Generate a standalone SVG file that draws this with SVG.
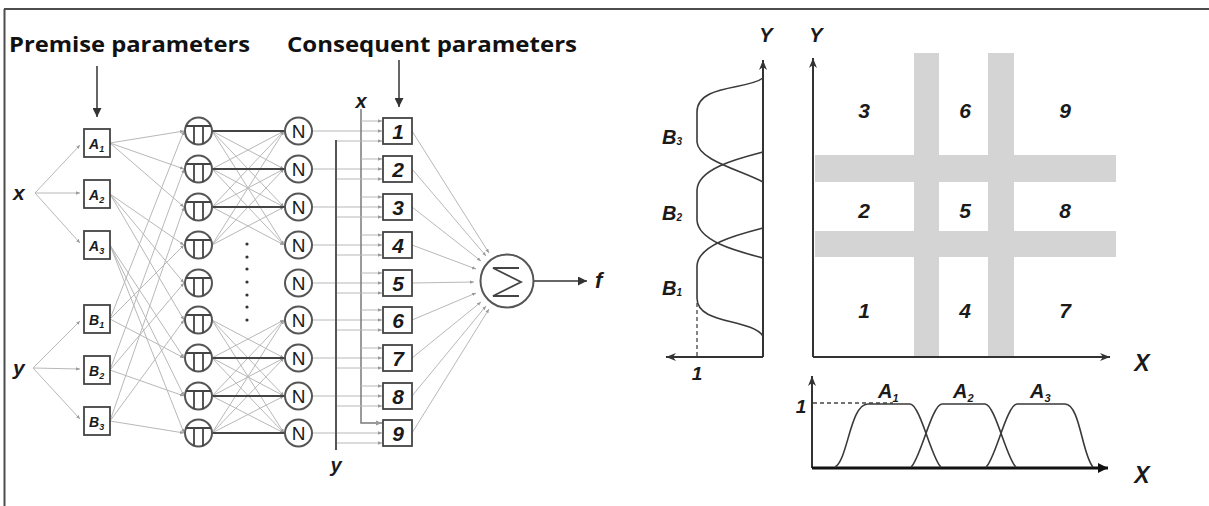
<svg xmlns="http://www.w3.org/2000/svg" width="1209" height="506" viewBox="0 0 1209 506">
<defs>
<marker id="ta" viewBox="0 0 6 6" refX="6" refY="3" markerWidth="4" markerHeight="4" orient="auto"><path d="M0,0.5 L6,3 L0,5.5z" fill="#9a9a9a"/></marker>
<marker id="da" viewBox="0 0 10 10" refX="10" refY="5" markerWidth="6" markerHeight="6" orient="auto"><path d="M0,0 L10,5 L0,10z" fill="#333"/></marker>
<marker id="aa" viewBox="0 0 10 10" refX="10" refY="5" markerWidth="5" markerHeight="5" orient="auto"><path d="M0,1 L10,5 L0,9 L3,5z" fill="#333"/></marker>
<marker id="ba" viewBox="0 0 10 10" refX="10" refY="5" markerWidth="3.5" markerHeight="3.5" orient="auto"><path d="M0,0 L10,5 L0,10z" fill="#111"/></marker>
</defs>
<style>
.t{font-family:"Liberation Sans",Arial,sans-serif;fill:#1a1a1a}
.bi{font-weight:bold;font-style:italic}
.it{font-style:italic}
.head{font-family:"Open Sans","Liberation Sans",sans-serif;font-weight:bold;font-size:21px;fill:#111}
.thin{stroke:#b8b8b8;stroke-width:1;fill:none}
.thinA{stroke:#b8b8b8;stroke-width:1;fill:none;marker-end:url(#ta)}
.thick{stroke:#444;stroke-width:2;fill:none}
.node{fill:#fff;stroke:#555;stroke-width:2}
.box{fill:#fff;stroke:#444;stroke-width:1.8}
.sym{stroke:#444;stroke-width:1.8;fill:none}
.axis{stroke:#333;stroke-width:2;fill:none}
.mf{stroke:#3a3a3a;stroke-width:1.6;fill:none}
.band{fill:#d4d4d4}
.dash{stroke:#444;stroke-width:1.3;stroke-dasharray:4 3;fill:none}
</style>
<rect width="1209" height="506" fill="#fff"/>
<g id="frame"><path d="M4,9 H1209 M4.5,9 V506" stroke="#4d4d4d" stroke-width="2" fill="none"/></g>

<g id="headings">
<text class="head" x="9" y="52" textLength="241" lengthAdjust="spacingAndGlyphs">Premise parameters</text>
<text class="head" x="287" y="52" textLength="290" lengthAdjust="spacingAndGlyphs">Consequent parameters</text>
</g>

<g id="connectors">
<path d="M97,66 V117" stroke="#333" stroke-width="1.5" marker-end="url(#da)"/>
<path d="M399,60 V107" stroke="#333" stroke-width="1.5" marker-end="url(#da)"/>
<!-- inputs to membership boxes -->
<path class="thinA" d="M35,193 L80,145"/>
<path class="thinA" d="M35,193 L80,193"/>
<path class="thinA" d="M35,193 L80,243"/>
<path class="thinA" d="M33,368 L80,321"/>
<path class="thinA" d="M33,368 L80,369"/>
<path class="thinA" d="M33,368 L80,419"/>
<!-- membership to product -->
<path class="thinA" d="M110,143 L184,131"/><path class="thinA" d="M110,143 L184,169"/><path class="thinA" d="M110,143 L184,207"/>
<path class="thinA" d="M110,194 L184,245"/><path class="thinA" d="M110,194 L184,283"/><path class="thinA" d="M110,194 L184,320"/>
<path class="thinA" d="M110,245 L184,358"/><path class="thinA" d="M110,245 L184,396"/><path class="thinA" d="M110,245 L184,433"/>
<path class="thinA" d="M110,319 L184,131"/><path class="thinA" d="M110,319 L184,245"/><path class="thinA" d="M110,319 L184,358"/>
<path class="thinA" d="M110,370 L184,169"/><path class="thinA" d="M110,370 L184,283"/><path class="thinA" d="M110,370 L184,396"/>
<path class="thinA" d="M110,421 L184,207"/><path class="thinA" d="M110,421 L184,320"/><path class="thinA" d="M110,421 L184,433"/>
<!-- product to normalisation cross lines -->
<path class="thinA" d="M212,131 L284,169"/><path class="thinA" d="M212,131 L284,207"/><path class="thinA" d="M212,131 L284,245"/>
<path class="thinA" d="M212,169 L284,131"/><path class="thinA" d="M212,169 L284,207"/><path class="thinA" d="M212,169 L284,245"/>
<path class="thinA" d="M212,207 L284,131"/><path class="thinA" d="M212,207 L284,169"/><path class="thinA" d="M212,207 L284,245"/>
<path class="thinA" d="M212,245 L284,131"/><path class="thinA" d="M212,245 L284,169"/><path class="thinA" d="M212,245 L284,207"/>
<path class="thinA" d="M212,320 L284,358"/><path class="thinA" d="M212,320 L284,396"/><path class="thinA" d="M212,320 L284,433"/>
<path class="thinA" d="M212,358 L284,320"/><path class="thinA" d="M212,358 L284,396"/><path class="thinA" d="M212,358 L284,433"/>
<path class="thinA" d="M212,396 L284,320"/><path class="thinA" d="M212,396 L284,358"/><path class="thinA" d="M212,396 L284,433"/>
<path class="thinA" d="M212,433 L284,320"/><path class="thinA" d="M212,433 L284,358"/><path class="thinA" d="M212,433 L284,396"/>
<path class="thick" d="M212,131 H285 M212,169 H285 M212,207 H285 M212,358 H285 M212,396 H285 M212,433 H285"/>
<!-- normalisation to consequent -->
<path class="thinA" d="M312,131 H382"/><path class="thinA" d="M312,169 H382"/><path class="thinA" d="M312,207 H382"/>
<path class="thinA" d="M312,245 H382"/><path class="thinA" d="M312,283 H382"/><path class="thinA" d="M312,320 H382"/>
<path class="thinA" d="M312,358 H382"/><path class="thinA" d="M312,396 H382"/><path class="thinA" d="M312,433 H382"/>
<!-- x input line -->
<path d="M361,109 V423 H382" stroke="#7a7a7a" stroke-width="1.5" fill="none" marker-end="url(#ta)"/>
<path class="thinA" d="M361,121 H382"/><path class="thinA" d="M361,159 H382"/><path class="thinA" d="M361,197 H382"/>
<path class="thinA" d="M361,235 H382"/><path class="thinA" d="M361,273 H382"/><path class="thinA" d="M361,310 H382"/>
<path class="thinA" d="M361,348 H382"/><path class="thinA" d="M361,386 H382"/>
<!-- y input line -->
<path d="M336,140 V450" stroke="#555" stroke-width="2" fill="none"/>
<path class="thinA" d="M337,141 H382"/><path class="thinA" d="M337,179 H382"/><path class="thinA" d="M337,217 H382"/>
<path class="thinA" d="M337,255 H382"/><path class="thinA" d="M337,293 H382"/><path class="thinA" d="M337,330 H382"/>
<path class="thinA" d="M337,368 H382"/><path class="thinA" d="M337,406 H382"/><path class="thinA" d="M337,443 H382"/>
<!-- consequent to sum -->
<path class="thinA" d="M412,131 L489,253"/><path class="thinA" d="M412,169 L486,256"/><path class="thinA" d="M412,207 L481,261"/>
<path class="thinA" d="M412,245 L476,269"/><path class="thinA" d="M412,283 L474,282"/><path class="thinA" d="M412,320 L476,293"/>
<path class="thinA" d="M412,358 L481,302"/><path class="thinA" d="M412,396 L486,306"/><path class="thinA" d="M412,433 L489,309"/>
<!-- output -->
<path d="M534,281 H587" stroke="#333" stroke-width="1.5" marker-end="url(#da)"/>
</g>

<g id="inputs">
<text class="t bi" x="13" y="200" font-size="21">x</text>
<text class="t bi" x="13" y="375" font-size="21">y</text>
<text class="t bi" x="361" y="108" font-size="20" text-anchor="middle">x</text>
<text class="t bi" x="336" y="472" font-size="20" text-anchor="middle">y</text>
<text class="t bi" x="595" y="288" font-size="22">f</text>
</g>

<g id="A1"><rect class="box" x="84" y="129" width="26" height="28"/><text class="t bi" x="89" y="149" font-size="14">A<tspan font-size="9" dy="3">1</tspan></text></g>
<g id="A2"><rect class="box" x="84" y="180" width="26" height="28"/><text class="t bi" x="89" y="200" font-size="14">A<tspan font-size="9" dy="3">2</tspan></text></g>
<g id="A3"><rect class="box" x="84" y="231" width="26" height="28"/><text class="t bi" x="89" y="251" font-size="14">A<tspan font-size="9" dy="3">3</tspan></text></g>
<g id="B1"><rect class="box" x="84" y="305" width="26" height="28"/><text class="t bi" x="89" y="325" font-size="14">B<tspan font-size="9" dy="3">1</tspan></text></g>
<g id="B2"><rect class="box" x="84" y="356" width="26" height="28"/><text class="t bi" x="89" y="376" font-size="14">B<tspan font-size="9" dy="3">2</tspan></text></g>
<g id="B3"><rect class="box" x="84" y="407" width="26" height="28"/><text class="t bi" x="89" y="427" font-size="14">B<tspan font-size="9" dy="3">3</tspan></text></g>

<g id="pi1" transform="translate(198.5,131)"><circle class="node" r="13.5"/><path class="sym" d="M-12.5,-5 H12.5 M-4.5,-5 V12.7 M4.5,-5 V12.7"/></g>
<g id="pi2" transform="translate(198.5,169)"><circle class="node" r="13.5"/><path class="sym" d="M-12.5,-5 H12.5 M-4.5,-5 V12.7 M4.5,-5 V12.7"/></g>
<g id="pi3" transform="translate(198.5,207)"><circle class="node" r="13.5"/><path class="sym" d="M-12.5,-5 H12.5 M-4.5,-5 V12.7 M4.5,-5 V12.7"/></g>
<g id="pi4" transform="translate(198.5,245)"><circle class="node" r="13.5"/><path class="sym" d="M-12.5,-5 H12.5 M-4.5,-5 V12.7 M4.5,-5 V12.7"/></g>
<g id="pi5" transform="translate(198.5,283)"><circle class="node" r="13.5"/><path class="sym" d="M-12.5,-5 H12.5 M-4.5,-5 V12.7 M4.5,-5 V12.7"/></g>
<g id="pi6" transform="translate(198.5,320)"><circle class="node" r="13.5"/><path class="sym" d="M-12.5,-5 H12.5 M-4.5,-5 V12.7 M4.5,-5 V12.7"/></g>
<g id="pi7" transform="translate(198.5,358)"><circle class="node" r="13.5"/><path class="sym" d="M-12.5,-5 H12.5 M-4.5,-5 V12.7 M4.5,-5 V12.7"/></g>
<g id="pi8" transform="translate(198.5,396)"><circle class="node" r="13.5"/><path class="sym" d="M-12.5,-5 H12.5 M-4.5,-5 V12.7 M4.5,-5 V12.7"/></g>
<g id="pi9" transform="translate(198.5,433)"><circle class="node" r="13.5"/><path class="sym" d="M-12.5,-5 H12.5 M-4.5,-5 V12.7 M4.5,-5 V12.7"/></g>

<g id="dots" fill="#333"><circle cx="247" cy="244" r="1.6"/><circle cx="247" cy="257" r="1.6"/><circle cx="247" cy="269" r="1.6"/><circle cx="247" cy="282" r="1.6"/><circle cx="247" cy="295" r="1.6"/><circle cx="247" cy="307" r="1.6"/><circle cx="247" cy="320" r="1.6"/></g>

<g id="n1" transform="translate(298.5,131)"><circle class="node" r="13.5"/><text class="t" y="7" font-size="19" text-anchor="middle" fill="#333">N</text></g>
<g id="n2" transform="translate(298.5,169)"><circle class="node" r="13.5"/><text class="t" y="7" font-size="19" text-anchor="middle" fill="#333">N</text></g>
<g id="n3" transform="translate(298.5,207)"><circle class="node" r="13.5"/><text class="t" y="7" font-size="19" text-anchor="middle" fill="#333">N</text></g>
<g id="n4" transform="translate(298.5,245)"><circle class="node" r="13.5"/><text class="t" y="7" font-size="19" text-anchor="middle" fill="#333">N</text></g>
<g id="n5" transform="translate(298.5,283)"><circle class="node" r="13.5"/><text class="t" y="7" font-size="19" text-anchor="middle" fill="#333">N</text></g>
<g id="n6" transform="translate(298.5,320)"><circle class="node" r="13.5"/><text class="t" y="7" font-size="19" text-anchor="middle" fill="#333">N</text></g>
<g id="n7" transform="translate(298.5,358)"><circle class="node" r="13.5"/><text class="t" y="7" font-size="19" text-anchor="middle" fill="#333">N</text></g>
<g id="n8" transform="translate(298.5,396)"><circle class="node" r="13.5"/><text class="t" y="7" font-size="19" text-anchor="middle" fill="#333">N</text></g>
<g id="n9" transform="translate(298.5,433)"><circle class="node" r="13.5"/><text class="t" y="7" font-size="19" text-anchor="middle" fill="#333">N</text></g>

<g id="c1"><rect class="box" x="383" y="118" width="29" height="26"/><text class="t bi" x="398" y="139" font-size="21" text-anchor="middle">1</text></g>
<g id="c2"><rect class="box" x="383" y="156" width="29" height="26"/><text class="t bi" x="398" y="177" font-size="21" text-anchor="middle">2</text></g>
<g id="c3"><rect class="box" x="383" y="194" width="29" height="26"/><text class="t bi" x="398" y="215" font-size="21" text-anchor="middle">3</text></g>
<g id="c4"><rect class="box" x="383" y="232" width="29" height="26"/><text class="t bi" x="398" y="253" font-size="21" text-anchor="middle">4</text></g>
<g id="c5"><rect class="box" x="383" y="270" width="29" height="26"/><text class="t bi" x="398" y="291" font-size="21" text-anchor="middle">5</text></g>
<g id="c6"><rect class="box" x="383" y="307" width="29" height="26"/><text class="t bi" x="398" y="328" font-size="21" text-anchor="middle">6</text></g>
<g id="c7"><rect class="box" x="383" y="345" width="29" height="26"/><text class="t bi" x="398" y="366" font-size="21" text-anchor="middle">7</text></g>
<g id="c8"><rect class="box" x="383" y="383" width="29" height="26"/><text class="t bi" x="398" y="404" font-size="21" text-anchor="middle">8</text></g>
<g id="c9"><rect class="box" x="383" y="420" width="29" height="26"/><text class="t bi" x="398" y="441" font-size="21" text-anchor="middle">9</text></g>

<g id="sum" transform="translate(507,281)"><circle class="node" r="26.5"/><path class="sym" d="M12,-13 H-14 L14,1 L-14,15 H12" stroke-linejoin="miter"/></g>

<g id="membership-y">
<path class="axis" d="M763,357 V60" marker-end="url(#aa)"/>
<path class="axis" d="M763,357 H666" marker-end="url(#aa)"/>
<path class="dash" d="M697,356 V300"/>
<path class="mf" d="M763,78 C748,90 697,84 697,112 L697,142 C698,160 740,170 763,182"/>
<path class="mf" d="M763,152 C740,158 698,168 697,190 L697,220 C698,242 740,252 763,258"/>
<path class="mf" d="M763,228 C740,234 698,244 697,266 L697,298 C697,325 750,318 763,336"/>
<text class="t bi" x="662" y="144" font-size="20">B<tspan font-size="10" dy="1">3</tspan></text>
<text class="t bi" x="662" y="220" font-size="20">B<tspan font-size="10" dy="1">2</tspan></text>
<text class="t bi" x="662" y="295" font-size="20">B<tspan font-size="10" dy="1">1</tspan></text>
<text class="t bi" x="766" y="42" font-size="20" text-anchor="middle">Y</text>
<text class="t bi" x="697" y="380" font-size="19" text-anchor="middle">1</text>
</g>

<g id="grid">
<rect class="band" x="914" y="53" width="25" height="304"/>
<rect class="band" x="988" y="53" width="26" height="304"/>
<rect class="band" x="815" y="155" width="301" height="27"/>
<rect class="band" x="815" y="231" width="301" height="26"/>
<path class="axis" d="M813,357 V58" marker-end="url(#aa)"/>
<path class="axis" d="M813,357 H1110" marker-end="url(#aa)"/>
<text class="t bi" x="816" y="42" font-size="20" text-anchor="middle">Y</text>
<text class="t bi" x="1142" y="371" font-size="23" text-anchor="middle">X</text>
<g font-size="21" text-anchor="middle">
<text class="t bi" x="864" y="118">3</text><text class="t bi" x="965" y="118">6</text><text class="t bi" x="1065" y="118">9</text>
<text class="t bi" x="864" y="218">2</text><text class="t bi" x="965" y="218">5</text><text class="t bi" x="1065" y="218">8</text>
<text class="t bi" x="864" y="318">1</text><text class="t bi" x="965" y="318">4</text><text class="t bi" x="1065" y="318">7</text>
</g>
</g>

<g id="membership-x">
<path class="axis" d="M812,468 V376" marker-end="url(#aa)"/>
<path d="M812,468 H1108" stroke="#111" stroke-width="3" fill="none" marker-end="url(#ba)"/>
<path class="dash" d="M813,403 H893"/>
<path class="mf" d="M835,467 C848,460 850,404 868,404 L910,404 C920,404 932,460 941,467"/>
<path class="mf" d="M911,467 C920,460 932,404 942,404 L985,404 C995,404 1007,460 1016,467"/>
<path class="mf" d="M986,467 C995,460 1007,404 1017,404 L1065,404 C1080,404 1082,455 1093,467"/>
<text class="t bi" x="878" y="398" font-size="20">A<tspan font-size="11" dy="4">1</tspan></text>
<text class="t bi" x="953" y="398" font-size="20">A<tspan font-size="11" dy="4">2</tspan></text>
<text class="t bi" x="1030" y="398" font-size="20">A<tspan font-size="11" dy="4">3</tspan></text>
<text class="t bi" x="801" y="413" font-size="19" text-anchor="middle">1</text>
<text class="t bi" x="1142" y="483" font-size="23" text-anchor="middle">X</text>
</g>
</svg>
